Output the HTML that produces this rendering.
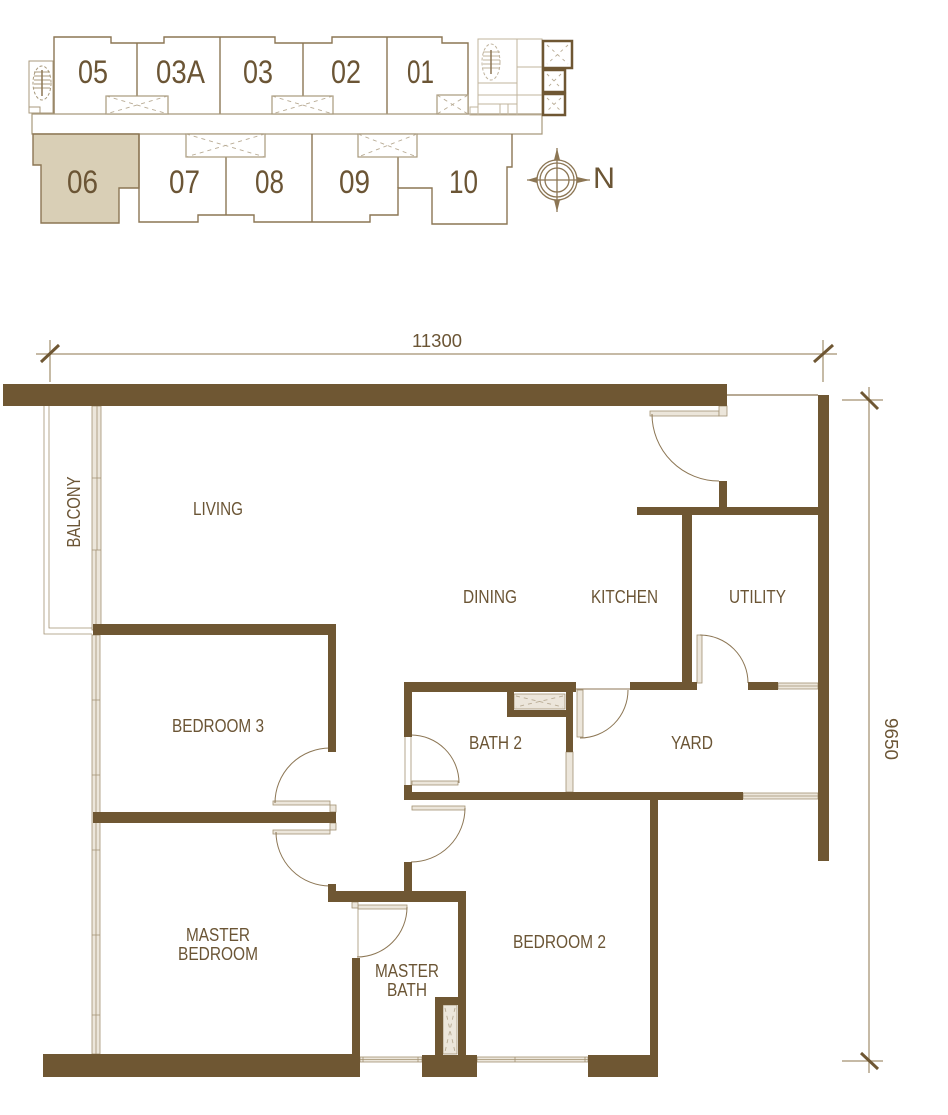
<!DOCTYPE html>
<html><head><meta charset="utf-8"><style>
html,body{margin:0;padding:0;background:#fff;}
svg{display:block;}
text{font-family:"Liberation Sans",sans-serif;fill:#6b5535;}
</style></head><body>
<svg width="948" height="1115" viewBox="0 0 948 1115" xmlns="http://www.w3.org/2000/svg">
<!-- ============ KEY PLAN ============ -->
<g fill="none" stroke="#8c7654" stroke-width="1.4">
  <!-- top row -->
  <path d="M54,114 V37 H111 V43 H164 V37 H275 V43 H332 V37 H442 V43 H468 V114"/>
  <line x1="137" y1="43" x2="137" y2="96"/>
  <line x1="220" y1="37" x2="220" y2="114"/>
  <line x1="303" y1="43" x2="303" y2="96"/>
  <line x1="387" y1="37" x2="387" y2="114"/>
  <!-- corridor -->
  <path d="M32,114 H542 V134 H32 Z" stroke="#a8997c" stroke-width="1.2"/>
  <!-- bottom row -->
  <path d="M33,134 H139 V188 H119 V223 H41 V165 H33 Z" fill="#d9cfb6"/>
  <path d="M139,134 V222 H198 V215 H254 V222 H370 V215 H398 V188 H432 V224 H507 V167 H512 V134"/>
  <line x1="226" y1="157" x2="226" y2="215"/>
  <line x1="312" y1="134" x2="312" y2="222"/>
  <line x1="398" y1="157" x2="398" y2="188"/>
</g>
<!-- lobby boxes -->
<g fill="#fff" stroke="#a8997c" stroke-width="1.2">
  <rect x="106" y="96" width="62" height="18"/>
  <rect x="272" y="96" width="61" height="18"/>
  <rect x="437" y="95" width="31" height="19"/>
  <rect x="186" y="134" width="79" height="23"/>
  <rect x="358" y="134" width="59" height="23"/>
</g>
<g stroke="#b8ab94" stroke-width="0.9" stroke-dasharray="4,4" fill="none">
  <path d="M106,96 L168,114 M168,96 L106,114"/>
  <path d="M272,96 L333,114 M333,96 L272,114"/>
  <path d="M437,95 L468,114 M468,95 L437,114"/>
  <path d="M186,134 L265,157 M265,134 L186,157"/>
  <path d="M358,134 L417,157 M417,134 L358,157"/>
</g>
<!-- left stair -->
<g fill="none" stroke="#a8997c" stroke-width="1">
  <rect x="29" y="61" width="24" height="52"/>
  <rect x="29" y="107" width="11" height="6"/>
  <ellipse cx="42" cy="83" rx="9" ry="17" stroke-dasharray="3,2"/>
  <path d="M34,72 H50 M34,76 H50 M34,80 H50 M34,84 H50 M34,88 H50"/>
  <path d="M42,70 V96" stroke="#8c7654" stroke-width="1.5"/>
</g>
<!-- core -->
<g fill="none" stroke="#c0b49e" stroke-width="1">
  <rect x="478" y="39" width="64" height="76"/>
  <line x1="517" y1="39" x2="517" y2="115"/>
  <line x1="517" y1="67" x2="542" y2="67"/>
  <line x1="478" y1="83" x2="517" y2="83"/>
  <line x1="478" y1="95" x2="542" y2="95"/>
  <line x1="478" y1="104" x2="517" y2="104"/>
  <line x1="500" y1="104" x2="500" y2="115"/>
  <line x1="508" y1="104" x2="508" y2="115"/>
  <rect x="470" y="107" width="8" height="8"/>
  <ellipse cx="491" cy="62" rx="9" ry="18" stroke-dasharray="3,2"/>
  <path d="M483,52 H500 M483,56 H500 M483,60 H500 M483,64 H500 M483,68 H500"/>
  <path d="M491,50 V74" stroke="#8c7654" stroke-width="1.5"/>
</g>
<g fill="#fff" stroke="#6f5733" stroke-width="2.5">
  <rect x="543" y="41" width="29" height="27"/>
  <rect x="543" y="70" width="22" height="22"/>
  <rect x="543" y="94" width="22" height="21"/>
</g>
<g stroke="#b8ab94" stroke-width="0.9" stroke-dasharray="3,4">
  <path d="M547,45 L568,64 M568,45 L547,64"/>
  <path d="M547,74 L561,88 M561,74 L547,88"/>
  <path d="M547,98 L561,111 M561,98 L547,111"/>
</g>
<!-- compass -->
<g fill="none" stroke="#8c7654" stroke-width="1.3">
  <circle cx="557" cy="180" r="20"/>
  <circle cx="557" cy="180" r="17"/>
  <circle cx="557" cy="180" r="12"/>
  <line x1="527" y1="180" x2="590" y2="180"/>
  <line x1="557" y1="148" x2="557" y2="212"/>
</g>
<g fill="#8c7654">
  <path d="M527,180 L537,177 L537,183 Z"/>
  <path d="M590,180 L577,177 L577,183 Z"/>
  <path d="M557,148 L554,160 L560,160 Z"/>
  <path d="M557,212 L554,200 L560,200 Z"/>
</g>
<text x="593" y="188" font-size="30" textLength="22" lengthAdjust="spacingAndGlyphs">N</text>
<!-- key numbers -->
<g font-size="32" text-anchor="middle">
  <text x="93" y="83" textLength="30" lengthAdjust="spacingAndGlyphs">05</text>
  <text x="180.5" y="83" textLength="49" lengthAdjust="spacingAndGlyphs">03A</text>
  <text x="258" y="83" textLength="30" lengthAdjust="spacingAndGlyphs">03</text>
  <text x="346" y="83" textLength="30" lengthAdjust="spacingAndGlyphs">02</text>
  <text x="420.5" y="83" textLength="27" lengthAdjust="spacingAndGlyphs">01</text>
  <text x="82.5" y="193" textLength="31" lengthAdjust="spacingAndGlyphs">06</text>
  <text x="184.5" y="193" textLength="31" lengthAdjust="spacingAndGlyphs">07</text>
  <text x="269.5" y="193" textLength="29" lengthAdjust="spacingAndGlyphs">08</text>
  <text x="354.5" y="193" textLength="31" lengthAdjust="spacingAndGlyphs">09</text>
  <text x="463.5" y="193" textLength="29" lengthAdjust="spacingAndGlyphs">10</text>
</g>

<!-- ============ FLOOR PLAN ============ -->
<!-- dimension lines -->
<g stroke="#b3a489" stroke-width="1.5">
  <line x1="36" y1="354" x2="837" y2="354"/>
  <line x1="50" y1="340" x2="50" y2="382"/>
  <line x1="823" y1="340" x2="823" y2="382"/>
  <line x1="869" y1="387" x2="869" y2="1073"/>
  <line x1="842" y1="400" x2="883" y2="400"/>
  <line x1="842" y1="1061" x2="883" y2="1061"/>
</g>
<g stroke="#6f5733" stroke-width="3">
  <line x1="41" y1="362" x2="59" y2="345"/>
  <line x1="814" y1="362" x2="833" y2="345"/>
  <line x1="861" y1="392" x2="878" y2="409"/>
  <line x1="861" y1="1053" x2="878" y2="1069"/>
</g>

<!-- light elements (windows, door leaves, balcony) -->
<g fill="#ece6db" stroke="#a39273" stroke-width="0.8">
  <!-- balcony sliding door -->
  <rect x="92" y="406" width="9" height="224"/>
  <!-- left windows -->
  <rect x="92" y="635" width="8" height="419"/>
  <!-- top right door leaf & jamb -->
  <rect x="650" y="411" width="69" height="5"/>
  <rect x="719" y="406" width="8" height="10"/>
  <!-- utility door leaf -->
  <rect x="697" y="635" width="5" height="48"/>
  <!-- utility window -->
  <rect x="778" y="683" width="40" height="6"/>
  <!-- yard door leaf -->
  <rect x="577" y="690" width="6" height="47"/>
  <!-- bath2 window -->
  <rect x="566" y="752" width="7" height="40"/>
  <!-- bath2 door leaf -->
  <rect x="412" y="781" width="46" height="4"/>
  <!-- yard bottom window -->
  <rect x="743" y="793" width="75" height="6"/>
  <!-- bedroom 2 door leaf -->
  <rect x="412" y="806" width="53" height="4"/>
  <!-- bedroom 3 / master door leaves -->
  <rect x="273" y="801" width="57" height="4"/>
  <rect x="273" y="830" width="57" height="4"/>
  <rect x="330" y="805" width="6" height="7"/>
  <rect x="330" y="823" width="6" height="7"/>
  <!-- master bath door leaf & jamb -->
  <rect x="358" y="905" width="49" height="4"/>
  <rect x="352" y="902" width="6" height="6"/>
  <!-- shower boxes -->
  <rect x="514" y="694" width="51" height="15"/>
  <rect x="443" y="1005" width="14" height="49"/>
  <!-- bottom windows -->
  <rect x="360" y="1057" width="62" height="5"/>
  <rect x="477" y="1057" width="111" height="5"/>
</g>
<g stroke="#a39273" stroke-width="0.8" fill="none">
  <!-- balcony outline -->
  <path d="M44,406 V634 H92"/>
  <path d="M49,406 V628 H92"/>
  <!-- sliding door panels -->
  <path d="M97,406 V482 M92,478 H101 M97,478 V550 M92,550 H101 M96,550 V630"/>
  <!-- window mullions -->
  <path d="M92,700 H100 M92,775 H100 M92,850 H100 M92,935 H100 M92,1015 H100 M96,635 V1054"/>
  <path d="M363,1057 V1062 M418,1057 V1062 M515,1057 V1062 M585,1057 V1062 M360,1059.5 H422 M477,1059.5 H588"/>
  <path d="M778,686 H818 M743,796 H818"/>
  <!-- bath2 door frame -->
  <path d="M405,737 V785 M411,737 V785"/>
  <!-- master bath frame -->
  <path d="M358,908 V957"/>
  <!-- thin top line right -->
  <path d="M727,395 H818" stroke="#8c7654" stroke-width="1.2"/>
  <!-- yard top thin line -->
  <path d="M576,689 H630" stroke="#8c7654" stroke-width="1"/>
</g>
<!-- dashed X in showers -->
<g stroke="#b8ab94" stroke-width="0.9" stroke-dasharray="4,4">
  <path d="M516,696 L563,707 M563,696 L516,707"/>
  <path d="M445,1008 L455,1052 M455,1008 L445,1052"/>
</g>
<!-- door arcs -->
<g fill="none" stroke="#8c7654" stroke-width="1">
  <path d="M652,414 A67,67 0 0 0 719,481"/>
  <path d="M700,635 A48,48 0 0 1 748,683"/>
  <path d="M580,738 A48,48 0 0 0 628,690"/>
  <path d="M459,783 A48,48 0 0 0 411,735"/>
  <path d="M465,808 A54,54 0 0 1 411,862"/>
  <path d="M275,803 A55,55 0 0 1 330,748"/>
  <path d="M276,832 A54,54 0 0 0 330,886"/>
  <path d="M407,907 A50,50 0 0 1 357,957"/>
</g>

<!-- walls -->
<g fill="#6f5733">
  <rect x="3" y="384" width="724" height="22"/>
  <rect x="719" y="481" width="8" height="26"/>
  <rect x="818" y="395" width="11" height="466"/>
  <rect x="637" y="507" width="181" height="8"/>
  <rect x="682" y="515" width="10" height="175"/>
  <rect x="630" y="682" width="67" height="8"/>
  <rect x="748" y="682" width="30" height="8"/>
  <!-- bath 2 -->
  <rect x="404" y="682" width="8" height="55"/>
  <rect x="404" y="682" width="172" height="10"/>
  <rect x="566" y="692" width="7" height="60"/>
  <rect x="507" y="692" width="7" height="25"/>
  <rect x="507" y="710" width="66" height="7"/>
  <rect x="404" y="785" width="8" height="15"/>
  <rect x="404" y="792" width="339" height="8"/>
  <!-- bedroom 2 -->
  <rect x="650" y="800" width="8" height="277"/>
  <rect x="404" y="862" width="8" height="29"/>
  <!-- master bath -->
  <rect x="328" y="891" width="138" height="11"/>
  <rect x="328" y="884" width="8" height="18"/>
  <rect x="352" y="958" width="8" height="97"/>
  <rect x="458" y="891" width="8" height="164"/>
  <rect x="435" y="997" width="8" height="58"/>
  <rect x="435" y="997" width="23" height="8"/>
  <!-- bedroom 3 -->
  <rect x="93" y="624" width="243" height="11"/>
  <rect x="328" y="624" width="8" height="128"/>
  <rect x="93" y="812" width="243" height="11"/>
  <!-- bottom walls -->
  <rect x="43" y="1054" width="317" height="23"/>
  <rect x="422" y="1055" width="55" height="22"/>
  <rect x="588" y="1055" width="70" height="22"/>
</g>

<!-- labels -->
<g font-size="18" text-anchor="middle">
  <text x="437" y="347" textLength="50" lengthAdjust="spacingAndGlyphs">11300</text>
  <text x="218" y="515" textLength="50" lengthAdjust="spacingAndGlyphs">LIVING</text>
  <text transform="translate(80,512) rotate(-90)" x="0" y="0" textLength="71" lengthAdjust="spacingAndGlyphs">BALCONY</text>
  <text x="490" y="603" textLength="54" lengthAdjust="spacingAndGlyphs">DINING</text>
  <text x="624.5" y="603" textLength="67" lengthAdjust="spacingAndGlyphs">KITCHEN</text>
  <text x="757.5" y="603" textLength="57" lengthAdjust="spacingAndGlyphs">UTILITY</text>
  <text x="218" y="732" textLength="92" lengthAdjust="spacingAndGlyphs">BEDROOM 3</text>
  <text x="495.5" y="749" textLength="53" lengthAdjust="spacingAndGlyphs">BATH 2</text>
  <text x="692" y="749" textLength="42" lengthAdjust="spacingAndGlyphs">YARD</text>
  <text x="218" y="941" textLength="64" lengthAdjust="spacingAndGlyphs">MASTER</text>
  <text x="218" y="960" textLength="80" lengthAdjust="spacingAndGlyphs">BEDROOM</text>
  <text x="407" y="977" textLength="64" lengthAdjust="spacingAndGlyphs">MASTER</text>
  <text x="407" y="996" textLength="40" lengthAdjust="spacingAndGlyphs">BATH</text>
  <text x="559.5" y="948" textLength="93" lengthAdjust="spacingAndGlyphs">BEDROOM 2</text>
  <text transform="translate(885,739) rotate(90)" x="0" y="0" textLength="42" lengthAdjust="spacingAndGlyphs">9650</text>
</g>
</svg>
</body></html>
